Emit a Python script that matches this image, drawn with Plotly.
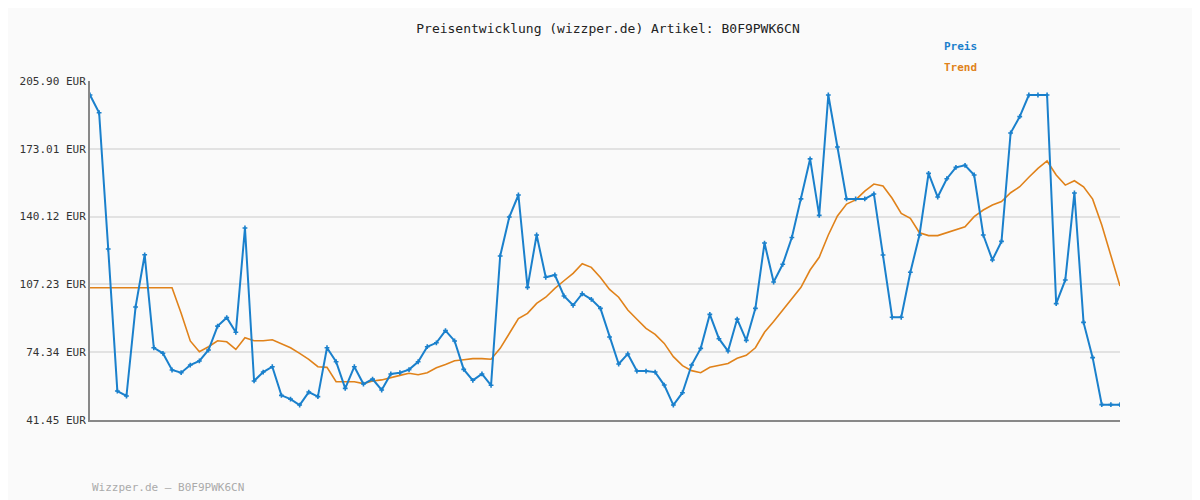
import plotly.graph_objects as go

preis = [199.1,190.5,124.4,55.5,53.1,96.3,121.6,76.5,73.8,65.7,64.4,68.1,70.1,75.4,87.0,91.1,84.0,134.6,60.4,64.7,
         67.3,53.4,51.6,48.7,55.0,52.8,76.5,69.7,56.8,67.3,58.9,61.3,56.0,63.8,64.4,65.9,69.7,77.0,78.9,84.8,
         79.8,66.0,60.7,63.8,58.3,121.0,139.9,150.6,105.8,131.2,110.7,111.8,101.6,97.1,102.7,100.0,95.6,81.7,68.6,73.5,
         65.2,65.2,64.7,58.4,48.7,54.7,68.1,76.2,92.7,80.9,74.9,90.4,80.1,95.6,127.3,108.4,117.0,130.0,148.7,168.1,
         140.7,199.1,173.9,148.7,148.7,148.7,151.1,121.5,91.3,91.3,113.1,131.2,161.1,149.6,158.5,164.0,165.0,160.3,131.2,119.1,
         128.1,180.7,188.6,199.1,199.1,199.1,97.9,109.4,151.6,88.8,71.7,48.9,48.9,48.9]
trend = [105.6]*10 + [93.2,79.8,74.6,77.0,79.9,79.4,75.7,81.4,79.9,79.9,
         80.4,78.6,76.5,73.8,70.9,67.3,67.0,60.0,60.0,60.0,59.1,60.4,60.9,62.1,63.1,64.1,63.4,64.4,66.8,68.4,
         70.2,70.7,71.2,71.2,70.9,76.2,83.5,90.6,93.2,98.0,101.0,105.3,109.0,112.6,117.3,115.5,110.6,104.8,101.0,94.8,
         90.3,85.9,83.0,78.6,72.2,67.8,65.4,64.4,67.0,68.0,68.9,71.4,72.8,76.5,84.0,89.2,94.6,99.9,105.8,114.2,
         120.4,131.2,140.4,146.2,148.2,152.5,155.9,155.0,149.0,141.7,139.3,132.3,130.9,130.9,132.3,133.9,135.2,140.1,143.3,145.7,
         147.4,151.7,154.6,159.2,163.5,167.1,160.3,155.4,157.5,154.6,148.6,136.0,121.5,106.4]
x = list(range(len(preis)))
tickvals = [41.45, 74.34, 107.23, 140.12, 173.01, 205.90]
ticktext = [f"{v:.2f} EUR" for v in tickvals]

BLUE = "#1a80cc"
ORANGE = "#e0821a"
mono = "DejaVu Sans Mono"

# page has an 8px body offset; figure pixel coords = page coords - 8
W, H, L, R, T, B = 1200, 500, 72, 88, 73, 88

fig = go.Figure()
fig.add_trace(go.Scatter(x=x, y=trend, mode="lines", line=dict(color=ORANGE, width=1.6), name="Trend"))
fig.add_trace(go.Scatter(x=x, y=preis, mode="lines+markers", line=dict(color=BLUE, width=2),
                         marker=dict(symbol="cross", size=4, color=BLUE), name="Preis"))
fig.update_layout(
    width=W, height=H, showlegend=False,
    paper_bgcolor="#fafafa", plot_bgcolor="#fafafa",
    margin=dict(l=L, r=R, t=T, b=B),
    font=dict(family=mono, size=11, color="#333"),
    title=dict(text="Preisentwicklung (wizzper.de) Artikel: B0F9PWK6CN", x=0.5, y=1 - 20 / H,
               xanchor="center", yanchor="middle", font=dict(family=mono, size=13, color="#222")),
    xaxis=dict(range=[0, len(preis) - 1], showgrid=False, showticklabels=False, zeroline=False,
               showline=True, linecolor="#888", linewidth=2),
    yaxis=dict(range=[41.45, 205.90], tickvals=tickvals, ticktext=ticktext, showgrid=True,
               gridcolor="#e2e2e2", gridwidth=2, zeroline=False, showline=True, linecolor="#888",
               linewidth=2, ticks="", tickfont=dict(family=mono, size=11, color="#333")),
)
labels = [("<b>Preis</b>", 932, 39, BLUE), ("<b>Trend</b>", 932, 59, ORANGE),
          ("Wizzper.de – B0F9PWK6CN", 72, 479, "#aaa")]
anns = []
for text, px, py, col in labels:
    anns.append(dict(text=text, xref="paper", yref="paper", x=(px - L) / (W - L - R),
                     y=1 - (py - T) / (H - T - B), xanchor="left", yanchor="middle", showarrow=False,
                     font=dict(family=mono, size=11, color=col)))
fig.update_layout(annotations=anns)
fig.write_html("out.html")
